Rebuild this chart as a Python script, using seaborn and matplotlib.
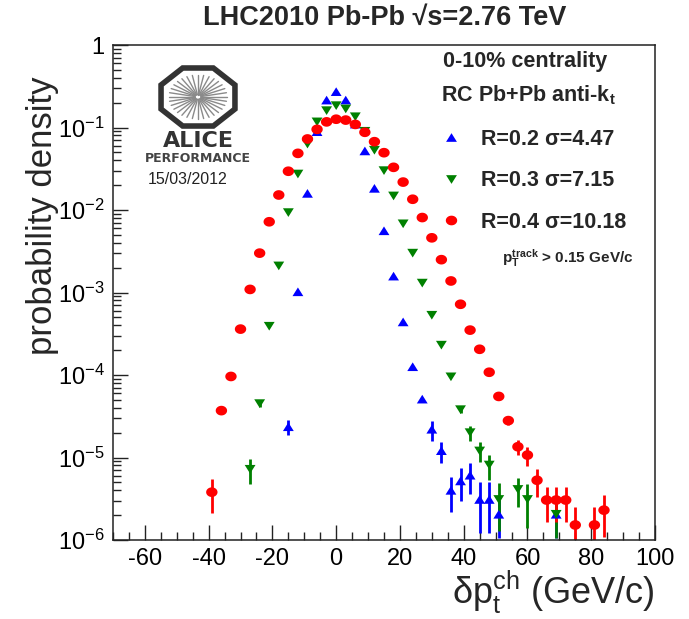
import numpy as np
import pandas as pd
import seaborn as sns
import matplotlib.pyplot as plt
from matplotlib.lines import Line2D
from matplotlib.patches import Polygon
from matplotlib.ticker import MultipleLocator, LogLocator, FuncFormatter, NullFormatter

# R=0.2 (blue)
x_r02 = [-15, -12, -9, -6, -3, 0, 3, 6, 9, 12, 15, 18, 21, 24, 27, 30, 33, 36, 39, 42, 45, 48, 51, 69]
y_r02 = [2.36e-5, 1.02e-3, 0.0159, 0.089, 0.215, 0.272, 0.215, 0.11, 0.052, 0.0183, 5.6e-3, 1.58e-3,
         4.4e-4, 1.26e-4, 5.1e-5, 2.2e-5, 1.21e-5, 4.0e-6, 5.2e-6, 6.1e-6, 3.1e-6, 3.1e-6, 2.05e-6, 2.05e-6]
e_r02 = [0.5e-5, 0, 0, 0, 0, 0, 0, 0, 0, 0, 0, 0,
         0, 0, 0, 0.6e-5, 0.35e-5, 1.8e-6, 2.2e-6, 2.5e-6, 1.9e-6, 1.9e-6, 1.0e-6, 1.0e-6]

# R=0.3 (green)
x_r03 = [-27, -24, -21, -18, -15, -12, -9, -6, -3, 0, 3, 6, 9, 12, 15, 18, 21, 24, 27, 30, 33, 36,
         39, 42, 45, 48, 51, 57, 60, 69]
y_r03 = [7.2e-6, 4.5e-5, 3.9e-4, 2.1e-3, 9.3e-3, 0.0273, 0.063, 0.117, 0.16, 0.184, 0.168, 0.135,
         0.09, 0.053, 0.030, 0.0148, 6.8e-3, 3.0e-3, 1.3e-3, 5.3e-4, 2.3e-4, 9.5e-5,
         3.8e-5, 2.0e-5, 1.2e-5, 8.1e-6, 3.1e-6, 4.1e-6, 3.1e-6, 2.05e-6]
e_r03 = [2.4e-6, 0.4e-5, 0, 0, 0, 0, 0, 0, 0, 0, 0, 0,
         0, 0, 0, 0, 0, 0, 0, 0, 0, 0,
         0.3e-5, 0.4e-5, 0.32e-5, 2.7e-6, 1.8e-6, 1.6e-6, 1.7e-6, 1.0e-6]

# R=0.4 (red)
x_r04 = [-39, -36, -33, -30, -27, -24, -21, -18, -15, -12, -9, -6, -3, 0, 3, 6, 9, 12, 15, 18, 21,
         24, 27, 30, 33, 36, 39, 42, 45, 48, 51, 54, 57, 60, 63, 66, 69, 72, 75, 81, 84]
y_r04 = [3.8e-6, 3.7e-5, 9.6e-5, 3.6e-4, 1.09e-3, 3.0e-3, 7.2e-3, 0.0152, 0.0295, 0.0486, 0.0726,
         0.095, 0.117, 0.126, 0.123, 0.109, 0.0875, 0.0673, 0.0495, 0.0329, 0.0218,
         0.0135, 8.1e-3, 4.6e-3, 2.5e-3, 1.38e-3, 7.2e-4, 3.5e-4, 2.05e-4, 1.08e-4, 5.5e-5,
         2.8e-5, 1.35e-5, 1.07e-5, 5.3e-6, 3.05e-6, 3.05e-6, 3.05e-6, 1.52e-6, 1.52e-6, 2.3e-6]
e_r04 = [1.7e-6, 0, 0, 0, 0, 0, 0, 0, 0, 0, 0,
         0, 0, 0, 0, 0, 0, 0, 0, 0, 0,
         0, 0, 0, 0, 0, 0, 0, 0, 0, 0,
         0.3e-5, 0.28e-5, 0.28e-5, 2.0e-6, 1.4e-6, 1.4e-6, 1.4e-6, 1.0e-6, 1.0e-6, 1.2e-6]

labels = ["R=0.2 \u03c3=4.47", "R=0.3 \u03c3=7.15", "R=0.4 \u03c3=10.18"]
colors = ["#0000ff", "#008000", "#ff0000"]
x_ticks = [-60, -40, -20, 0, 20, 40, 60, 80, 100]

sns.set_theme(style="ticks")
plt.rcParams['font.family'] = ['Liberation Sans', 'DejaVu Sans']
plt.rcParams['mathtext.fontset'] = 'custom'
plt.rcParams['mathtext.rm'] = 'Liberation Sans'
plt.rcParams['mathtext.it'] = 'Liberation Sans'
plt.rcParams['mathtext.bf'] = 'Liberation Sans:bold'
plt.rcParams['axes.unicode_minus'] = False

# ROOT-like marker shapes (slightly wide, as in the picture)
tri_up = np.array([(-1, -0.8), (1, -0.8), (0, 0.8)])
tri_dn = np.array([(-1, 0.8), (1, 0.8), (0, -0.8)])
t = np.linspace(0, 2 * np.pi, 41)
ellipse = np.column_stack([np.cos(t), 0.85 * np.sin(t)])
markers = [tri_up, tri_dn, ellipse]
sizes = [7.8, 7.8, 8.2]

fig = plt.figure(figsize=(6.89, 6.19), dpi=100)
ax = fig.add_axes([113 / 689, 1 - 540 / 619, 542 / 689, 495 / 619])

series = [(x_r02, y_r02, e_r02), (x_r03, y_r03, e_r03), (x_r04, y_r04, e_r04)]
for (xs, ys, es), c, m, ms in zip(series, colors, markers, sizes):
    df = pd.DataFrame({"x": xs, "y": ys, "e": es})
    sub = df[df.e > 0]
    ax.errorbar(sub.x, sub.y, yerr=sub.e, fmt='none', ecolor=c, elinewidth=2.0, capsize=0, zorder=2)
    sns.scatterplot(data=df, x="x", y="y", marker=m, s=ms ** 2, color=c,
                    edgecolor='none', linewidth=0, ax=ax, zorder=3)

ax.set_yscale('log', nonpositive='clip')
ax.set_xlim(-70, 100)
ax.set_ylim(1e-6, 1)
ax.set_xticks(x_ticks)
ax.xaxis.set_minor_locator(MultipleLocator(5))
ax.yaxis.set_major_locator(LogLocator(base=10, numticks=10))
ax.yaxis.set_minor_locator(LogLocator(base=10, subs=np.arange(2, 10), numticks=20))
ax.yaxis.set_minor_formatter(NullFormatter())


def yfmt(v, pos):
    k = int(round(np.log10(v)))
    if k == 0:
        return "1"
    return r"$\mathregular{10^{%d}}$" % k


ax.yaxis.set_major_formatter(FuncFormatter(yfmt))
ax.tick_params(which='both', direction='in', top=False, right=False, colors='#222222',
               labelcolor='black', labelsize=17)
ax.tick_params(which='major', length=11, width=1.0, pad=6)
ax.tick_params(which='minor', length=6, width=1.0)
for sp in ax.spines.values():
    sp.set_color('#222222')
    sp.set_linewidth(1.1)

ax.set_ylabel("probability density", fontsize=25)
ax.yaxis.set_label_coords(-0.10, 0.655)
ax.set_xlabel("\u03b4$\\mathregular{p_t^{ch}}$ (GeV/c)", fontsize=26, ha='right', va='top')
ax.xaxis.set_label_coords(1.0, -0.058)

fig.text(385 / 689, 1 - 18 / 619, "LHC2010 Pb-Pb \u221as=2.76 TeV", fontsize=19.5,
         fontweight='bold', ha='center', va='center')

# legend block
ax.text(525 / 689, 1 - 62 / 619, "0-10% centrality", transform=fig.transFigure,
        fontsize=15.5, fontweight='bold', ha='center', va='center')
ax.text(528 / 689, 1 - 95 / 619, r"RC Pb+Pb anti-k$_{\mathbf{t}}$", transform=fig.transFigure,
        fontsize=15.5, fontweight='bold', ha='center', va='center')
handles = [Line2D([], [], linestyle='none', marker=m, markersize=ms, color=c, markeredgewidth=0)
           for m, ms, c in zip(markers, sizes, colors)]
ax.legend(handles, labels, loc='upper left', bbox_to_anchor=(440 / 689, 1 - 129 / 619),
          bbox_transform=fig.transFigure, frameon=False, borderpad=0, borderaxespad=0,
          handlelength=1.0, handletextpad=0.9, labelspacing=0.95,
          prop={'weight': 'bold', 'size': 15.5})
ax.text(568 / 689, 1 - 258 / 619, r"$\mathbf{p_T^{track}}$ > 0.15 GeV/c", transform=fig.transFigure,
        fontsize=11, fontweight='bold', ha='center', va='center')

# ALICE performance logo
lg = fig.add_axes([140 / 689, 1 - 195 / 619, 120 / 689, 135 / 619])
lg.set_xlim(140, 260)
lg.set_ylim(195, 60)
lg.axis('off')
cx, cy = 198, 97
ang = np.deg2rad(22.5 + 45 * np.arange(8))
octo = np.column_stack([cx + 40 * np.cos(ang), cy + 31.4 * np.sin(ang)])
lg.add_patch(Polygon(octo, closed=True, fill=False, edgecolor='#333333', linewidth=4.0, joinstyle='miter'))
for a in np.deg2rad(np.arange(0, 360, 11.25)):
    lg.plot([cx + 3 * np.cos(a), cx + 29 * np.cos(a)], [cy + 2.3 * np.sin(a), cy + 22 * np.sin(a)],
            color='#8a8a8a', linewidth=1.0)
lg.text(198, 141, "ALICE", fontsize=16, fontweight='bold', family='DejaVu Sans',
        color='#333333', ha='center', va='center')
lg.text(198, 159, "PERFORMANCE", fontsize=9, fontweight='bold', family='DejaVu Sans',
        color='#444444', ha='center', va='center')
lg.text(188, 180, "15/03/2012", fontsize=11.5, color='#222222', ha='center', va='center')

fig.savefig("out.png", dpi=100, facecolor='white')
